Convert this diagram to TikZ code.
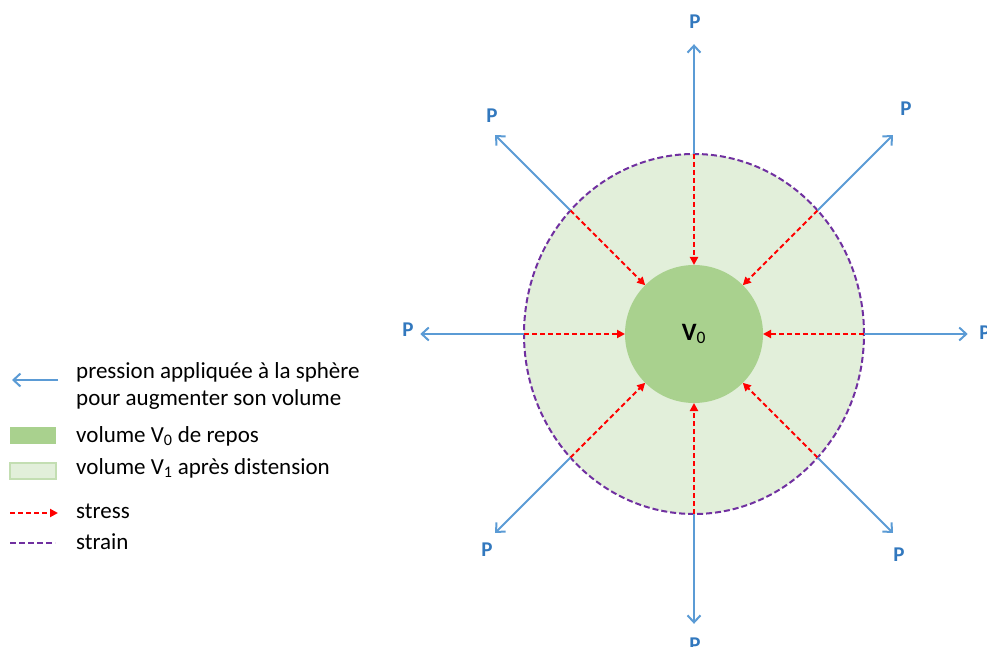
\documentclass[tikz,border=0pt]{standalone}
\usepackage{fontspec}
\setmainfont{Carlito}
\usetikzlibrary{arrows.meta,shapes.geometric,calc}

\begin{document}
\begin{tikzpicture}[x=1pt,y=1pt,
  press/.style={draw=pblue,line width=2pt,-{Straight Barb[length=7pt,width=13pt,line width=2pt]}},
  stress/.style={draw=red,line width=2pt,dash pattern=on 5pt off 3pt,-{Triangle[length=8pt,width=8pt]}},
  strain/.style={draw=strainc,line width=2pt,dash pattern=on 6pt off 3pt},
  plabel/.style={text=plabc,font=\fontsize{21}{25}\selectfont\bfseries,inner sep=0pt},
  legtext/.style={anchor=base west,font=\fontsize{23}{28}\selectfont,inner sep=0pt}]
% Define colours
\definecolor{pblue}{RGB}{91,155,213}
\definecolor{plabc}{RGB}{50,120,190}
\definecolor{darkg}{RGB}{169,209,142}
\definecolor{lightg}{RGB}{226,239,218}
\definecolor{lightgb}{RGB}{195,222,178}
\definecolor{strainc}{RGB}{112,48,160}

\useasboundingbox (0,0) rectangle (987,646);

% Draw the two volumes
\node[ellipse,draw=strainc,strain,fill=lightg,minimum width=340,minimum height=360,inner sep=0pt,outer sep=0pt] (outer) at (694,312) {};
\node[circle,fill=darkg,minimum size=138,inner sep=0pt,outer sep=0pt,font=\fontsize{25}{29}\selectfont] (V) at (694,312) {{\bfseries V}\textsubscript{0}};

% Draw stress and pressure arrows
\foreach \a in {0,45,...,315} {
  \coordinate (t\a) at ($(V)!1.61!(outer.\a)$);
  \draw[stress] (outer.\a) -- (V.\a);
  \draw[press] (outer.\a) -- (t\a);
}

% Add pressure labels
\node[plabel] (P0) at (985,313) {P};
\node[plabel] (P45) at (906,537) {P};
\node[plabel] (P90) at (695,624) {P};
\node[plabel] (P135) at (492,530) {P};
\node[plabel] (P180) at (408,316) {P};
\node[plabel] (P225) at (487,96) {P};
\node[plabel] (P270) at (695,1) {P};
\node[plabel] (P315) at (899,91) {P};

% Draw legend
\coordinate (la1) at (58,266);
\coordinate (la2) at (12,266);
\draw[press] (la1) -- (la2);
\draw[fill=darkg,draw=none] (10,202) rectangle (56,219);
\draw[fill=lightg,draw=lightgb,line width=1.2pt] (10,167) rectangle (56,183);
\coordinate (ls1) at (10,133);
\coordinate (ls2) at (58,133);
\draw[stress] (ls1) -- (ls2);
\coordinate (lt1) at (10,103);
\coordinate (lt2) at (55,103);
\draw[strain] (lt1) -- (lt2);

\node[legtext] (lpress1) at (76,268) {pression appliquée à la sphère};
\node[legtext] (lpress2) at (76,241) {pour augmenter son volume};
\node[legtext] (lrest) at (76,204) {volume V\textsubscript{0} de repos};
\node[legtext] (ldist) at (76,172) {volume V\textsubscript{1} après distension};
\node[legtext] (lstress) at (76,128) {stress};
\node[legtext] (lstrain) at (76,97) {strain};
\end{tikzpicture}
\end{document}
